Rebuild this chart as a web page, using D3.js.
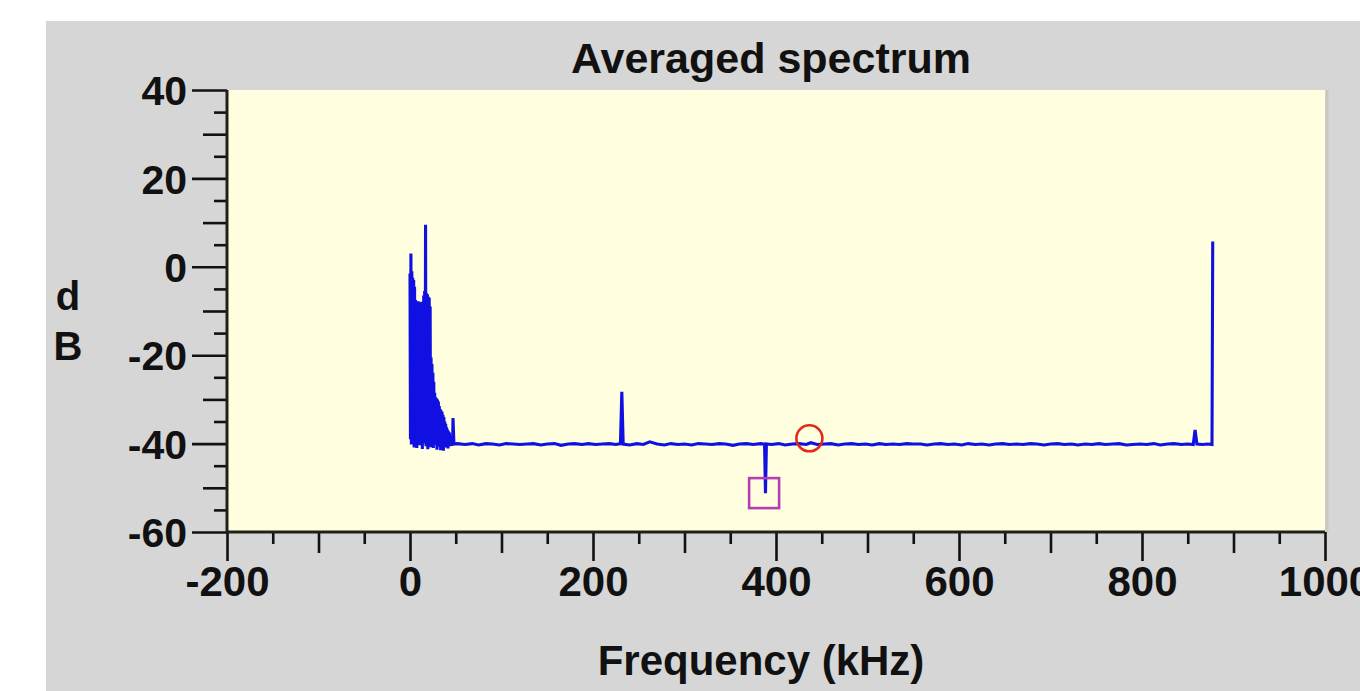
<!DOCTYPE html>
<html>
<head>
<meta charset="utf-8">
<script src="https://cdn.jsdelivr.net/npm/d3@7"></script>
<style>
  html, body { margin: 0; padding: 0; background: #ffffff; }
  svg { display: block; }
  text { font-family: "Liberation Sans", Arial, sans-serif; font-weight: bold; fill: #111; }
</style>
</head>
<body>
<svg id="chart" width="1360" height="691"></svg>
<script>
// ---------------- data ----------------
const titleText = "Averaged spectrum";
const xLabelText = "Frequency (kHz)";
const yLabelChars = ["d", "B"];

const xDomain = [-200, 1000];
const yDomain = [-60, 40];
const xMajorTicks = [-200, 0, 200, 400, 600, 800, 1000];
const xMidTicks = [-100, 100, 300, 500, 700, 900];
const xMinorTicks = [-150, -50, 50, 150, 250, 350, 450, 550, 650, 750, 850, 950];
const yMajorTicks = [-60, -40, -20, 0, 20, 40];
const yMidTicks = [-50, -30, -10, 10, 30];
const yMinorTicks = [-55, -45, -35, -25, -15, -5, 5, 15, 25, 35];

// dense low-frequency part (kHz) : envelope peaks and troughs between them
const denseFreq = [0, 1, 2, 3, 4, 5, 6, 7, 8, 9,
  10, 11, 12, 13, 14, 15, 16, 17, 18, 19,
  20, 21, 22, 23, 24, 25, 26, 27, 28, 29,
  30, 31, 32, 33, 34, 35, 36, 37, 38, 39,
  40, 41, 42, 43, 44, 45, 46, 47];
const denseHigh = [-1.5, 3.0, -1.0, -2.5, -3.0, -4.5, -7.5, -8.0, -8.5, -7.8,
  -8.2, -8.0, -8.6, -7.9, -8.3, -6.5, -5.5, 9.5, -6.0, -6.2,
  -6.8, -7.0, -9.0, -20.5, -22.0, -24.0, -26.0, -28.5, -29.5, -29.8,
  -30.0, -30.5, -31.5, -32.2, -32.5, -32.8, -33.5, -34.0, -35.0, -35.5,
  -36.3, -36.8, -37.2, -37.5, -38.2, -38.8, -39.5, -34.2];
const denseLow = [-39.0, -40.2, -38.6, -39.8, -40.9, -38.9, -39.5, -41.0, -39.2, -38.7,
  -40.4, -39.1, -39.9, -41.2, -38.8, -40.0, -39.4, -40.6, -39.0, -41.3,
  -39.6, -38.9, -40.8, -39.3, -40.1, -41.0, -39.5, -40.3, -39.8, -41.4,
  -40.0, -39.2, -40.7, -41.5, -39.9, -40.4, -41.6, -40.2, -39.7, -40.9,
  -40.3, -41.1, -40.0, -40.6, -40.2, -40.5, -40.4];

// noise floor and isolated lines (kHz, dB)
const floorFreq = [48, 52, 60, 68, 75, 83, 90, 98, 105, 113,
  120, 128, 135, 143, 150, 158, 165, 173, 180, 188,
  195, 203, 210, 218, 225, 230, 231.5, 233, 240, 248,
  255, 262, 270, 278, 285, 293, 300, 308, 315, 323,
  330, 338, 345, 353, 360, 368, 375, 383, 387.5, 388.5,
  389.5, 395, 403, 410, 418, 425, 433, 438, 445, 453,
  460, 468, 475, 483, 490, 498, 505, 513, 520, 528,
  535, 543, 550, 558, 565, 573, 580, 588, 595, 603,
  610, 618, 625, 633, 640, 648, 655, 663, 670, 678,
  685, 693, 700, 708, 715, 723, 730, 738, 745, 753,
  760, 768, 775, 783, 790, 798, 805, 813, 820, 828,
  835, 843, 850, 856, 858, 860, 866, 872, 876.5, 877.3];
const floorDb = [-40.1, -40.0, -40.2, -40.0, -40.3, -40.0, -40.1, -40.3, -40.0, -40.1,
  -40.2, -40.1, -40.0, -40.3, -40.1, -40.0, -40.4, -40.1, -40.0, -40.2,
  -40.0, -40.2, -40.1, -40.0, -40.2, -40.0, -28.3, -40.1, -40.3, -40.0,
  -40.2, -39.6, -40.1, -40.3, -40.0, -40.2, -40.1, -40.3, -40.0, -40.1,
  -40.2, -40.0, -40.1, -40.4, -40.1, -40.0, -40.2, -40.0, -40.1, -51.2,
  -40.1, -40.2, -40.0, -40.3, -40.1, -40.0, -40.2, -39.8, -40.2, -40.1,
  -40.0, -40.3, -40.1, -40.0, -40.2, -40.1, -40.3, -40.0, -40.2, -40.1,
  -40.2, -40.0, -40.1, -40.1, -40.3, -40.1, -40.0, -40.2, -40.1, -40.3,
  -40.0, -40.2, -40.1, -40.3, -40.1, -40.0, -40.2, -40.1, -40.2, -40.0,
  -40.1, -40.3, -40.1, -40.0, -40.2, -40.1, -40.3, -40.1, -40.2, -40.0,
  -40.2, -40.1, -40.0, -40.3, -40.2, -40.1, -40.2, -40.0, -40.3, -40.1,
  -40.0, -40.2, -40.1, -40.2, -36.9, -40.1, -40.2, -40.1, -40.2, 5.7];

// markers
const circleMarker = [{ f: 436.5, v: -38.8 }];
const squareMarker = [{ f: 387.0, v: -51.2 }];

// ---------------- drawing ----------------
const svg = d3.select("#chart");
const W = 1360, H = 691;
const plot = { left: 227, right: 1325, top: 90, bottom: 532 };

const x = d3.scaleLinear().domain(xDomain).range([plot.left, plot.right]);
const y = d3.scaleLinear().domain(yDomain).range([plot.bottom, plot.top]);

// frame background
svg.append("rect").attr("x", 46).attr("y", 21).attr("width", W - 46).attr("height", H - 21)
  .attr("fill", "#d6d6d6");
svg.append("rect").attr("x", plot.left).attr("y", plot.top)
  .attr("width", plot.right - plot.left).attr("height", plot.bottom - plot.top)
  .attr("fill", "#ffffdf");
svg.append("line").attr("x1", plot.right + 2).attr("x2", plot.right + 2)
  .attr("y1", plot.top).attr("y2", plot.bottom).attr("stroke", "#c9c9c0").attr("stroke-width", 3);

// spectrum series
const pts = [];
denseFreq.forEach((f, i) => {
  pts.push({ f: f, v: denseHigh[i] });
  if (i < denseLow.length) pts.push({ f: f + 0.5, v: denseLow[i] });
});
floorFreq.forEach((f, i) => pts.push({ f: f, v: floorDb[i] }));

const line = d3.line().x(d => x(d.f)).y(d => y(d.v));
svg.append("path").datum(pts).attr("d", line)
  .attr("fill", "none").attr("stroke", "#1010e2").attr("stroke-width", 3.1)
  .attr("stroke-linejoin", "miter");

// markers
svg.selectAll("circle.mk").data(circleMarker).enter().append("circle")
  .attr("cx", d => x(d.f)).attr("cy", d => y(d.v)).attr("r", 13)
  .attr("fill", "none").attr("stroke", "#e02a1a").attr("stroke-width", 2.6);
svg.selectAll("rect.mk").data(squareMarker).enter().append("rect")
  .attr("x", d => x(d.f) - 15).attr("y", d => y(d.v) - 15)
  .attr("width", 30).attr("height", 30)
  .attr("fill", "none").attr("stroke", "#b43cb4").attr("stroke-width", 2.6);

// axes
function styleAxis(g) {
  g.select(".domain").remove();
  g.selectAll(".tick line").attr("stroke", "#111").attr("stroke-width", 2.6);
}
const fmt = d => String(d);

const gx = svg.append("g").attr("transform", `translate(0,${plot.bottom})`);
gx.append("g").call(d3.axisBottom(x).tickValues(xMinorTicks).tickSize(12).tickFormat("")).call(styleAxis);
gx.append("g").call(d3.axisBottom(x).tickValues(xMidTicks).tickSize(21).tickFormat("")).call(styleAxis);
gx.append("g").call(d3.axisBottom(x).tickValues(xMajorTicks).tickSize(29).tickPadding(5).tickFormat(fmt))
  .call(styleAxis)
  .call(g => g.selectAll("text").attr("font-size", 42).attr("fill", "#111")
    .attr("font-family", "Liberation Sans, Arial, sans-serif").attr("font-weight", "bold")
    .attr("dy", "0.72em"));
gx.append("line").attr("x1", plot.left).attr("x2", plot.right).attr("y1", 0).attr("y2", 0)
  .attr("stroke", "#202018").attr("stroke-width", 3);

const gy = svg.append("g").attr("transform", `translate(${plot.left},0)`);
gy.append("g").call(d3.axisLeft(y).tickValues(yMinorTicks).tickSize(13).tickFormat("")).call(styleAxis);
gy.append("g").call(d3.axisLeft(y).tickValues(yMidTicks).tickSize(24).tickFormat("")).call(styleAxis);
gy.append("g").call(d3.axisLeft(y).tickValues(yMajorTicks).tickSize(35).tickPadding(5).tickFormat(fmt))
  .call(styleAxis)
  .call(g => g.selectAll("text").attr("font-size", 41).attr("fill", "#111")
    .attr("font-family", "Liberation Sans, Arial, sans-serif").attr("font-weight", "bold")
    .attr("dy", "0.36em"));
gy.append("line").attr("x1", 0).attr("x2", 0).attr("y1", plot.top).attr("y2", plot.bottom)
  .attr("stroke", "#202018").attr("stroke-width", 3);

// titles
svg.append("text").attr("x", 771).attr("y", 73).attr("text-anchor", "middle")
  .attr("font-size", 43).text(titleText);
svg.append("text").attr("x", 761).attr("y", 675).attr("text-anchor", "middle")
  .attr("font-size", 42).text(xLabelText);
svg.selectAll("text.ylab").data(yLabelChars).enter().append("text")
  .attr("class", "ylab").attr("x", 68).attr("y", (d, i) => 310 + i * 50)
  .attr("text-anchor", "middle").attr("font-size", 40).text(d => d);
</script>
</body>
</html>
